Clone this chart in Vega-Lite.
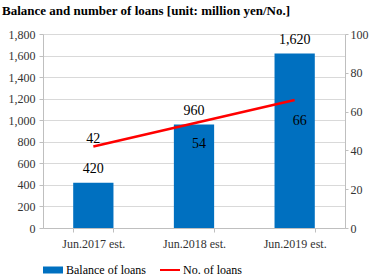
{
  "$schema": "https://vega.github.io/schema/vega-lite/v6.json",
  "width": 302,
  "height": 194,
  "autosize": "none",
  "padding": {"left": 43, "top": 34, "right": 28, "bottom": 46},
  "background": "white",
  "title": {
    "text": "Balance and number of loans [unit: million yen/No.]",
    "anchor": "start",
    "frame": "group",
    "font": "Liberation Serif",
    "fontSize": 13,
    "fontWeight": "bold",
    "color": "#000000",
    "baseline": "alphabetic",
    "dx": -41,
    "dy": 9,
    "offset": 9
  },
  "config": {
    "view": {"stroke": null},
    "axis": {
      "labelFont": "Liberation Serif",
      "labelFontSize": 12,
      "labelColor": "#333333",
      "domainColor": "#BFBFBF",
      "tickColor": "#BFBFBF",
      "gridColor": "#D9D9D9",
      "title": null
    },
    "legend": {
      "labelFont": "Liberation Serif",
      "labelFontSize": 12,
      "labelColor": "#000000"
    }
  },
  "data": {
    "values": [
      {"period": "Jun.2017 est.", "balance": 420, "loans": 42},
      {"period": "Jun.2018 est.", "balance": 960, "loans": 54},
      {"period": "Jun.2019 est.", "balance": 1620, "loans": 66}
    ]
  },
  "encoding": {
    "x": {
      "field": "period",
      "type": "nominal",
      "sort": null,
      "scale": {"paddingInner": 0.6, "paddingOuter": 0.3},
      "axis": {"labelAngle": 0, "tickBand": "extent", "tickSize": 4, "labelPadding": 6, "title": null}
    }
  },
  "layer": [
    {
      "encoding": {
        "y": {
          "field": "balance",
          "type": "quantitative",
          "scale": {"domain": [0, 1800], "nice": false},
          "axis": {"values": [0, 200, 400, 600, 800, 1000, 1200, 1400, 1600, 1800], "format": ",d", "grid": true, "tickSize": 4, "labelPadding": 4, "title": null}
        }
      },
      "layer": [
        {
          "mark": {"type": "bar"},
          "encoding": {
            "color": {
              "datum": "Balance of loans",
              "type": "nominal",
              "scale": {"domain": ["Balance of loans", "No. of loans"], "range": ["#0070C0", "#FF0000"]},
              "legend": {
                "orient": "bottom",
                "direction": "horizontal",
                "title": null,
                "symbolSize": 400,
                "labelOffset": 3,
                "columnPadding": 14,
                "offset": 11,
                "encode": {
                  "symbols": {
                    "update": {
                      "shape": {"signal": "datum.value === 'No. of loans' ? 'M-1,-0.1H1V0.1H-1Z' : 'M-1,-0.35H1V0.35H-1Z'"},
                      "strokeWidth": {"value": 0}
                    }
                  }
                }
              }
            }
          }
        },
        {
          "mark": {"type": "text", "font": "Liberation Serif", "fontSize": 14, "color": "#000000", "baseline": "middle", "dy": -13.5},
          "encoding": {
            "text": {"field": "balance", "type": "quantitative", "format": ",d"}
          }
        }
      ]
    },
    {
      "encoding": {
        "y": {
          "field": "loans",
          "type": "quantitative",
          "scale": {"domain": [0, 100], "nice": false},
          "axis": {"orient": "right", "values": [0, 20, 40, 60, 80, 100], "format": "d", "grid": false, "tickSize": 3, "labelPadding": 2, "title": null}
        }
      },
      "layer": [
        {
          "mark": {"type": "line", "strokeWidth": 2.5},
          "encoding": {
            "color": {"datum": "No. of loans", "type": "nominal"}
          }
        },
        {
          "transform": [{"filter": "datum.period === 'Jun.2017 est.'"}],
          "mark": {"type": "text", "font": "Liberation Serif", "fontSize": 14, "color": "#000000", "baseline": "middle", "dy": -8},
          "encoding": {
            "text": {"field": "loans", "type": "quantitative"}
          }
        },
        {
          "transform": [{"filter": "datum.period !== 'Jun.2017 est.'"}],
          "mark": {"type": "text", "font": "Liberation Serif", "fontSize": 14, "color": "#000000", "baseline": "middle", "dy": 21, "dx": 5},
          "encoding": {
            "text": {"field": "loans", "type": "quantitative"}
          }
        }
      ]
    }
  ],
  "resolve": {"scale": {"y": "independent"}}
}
